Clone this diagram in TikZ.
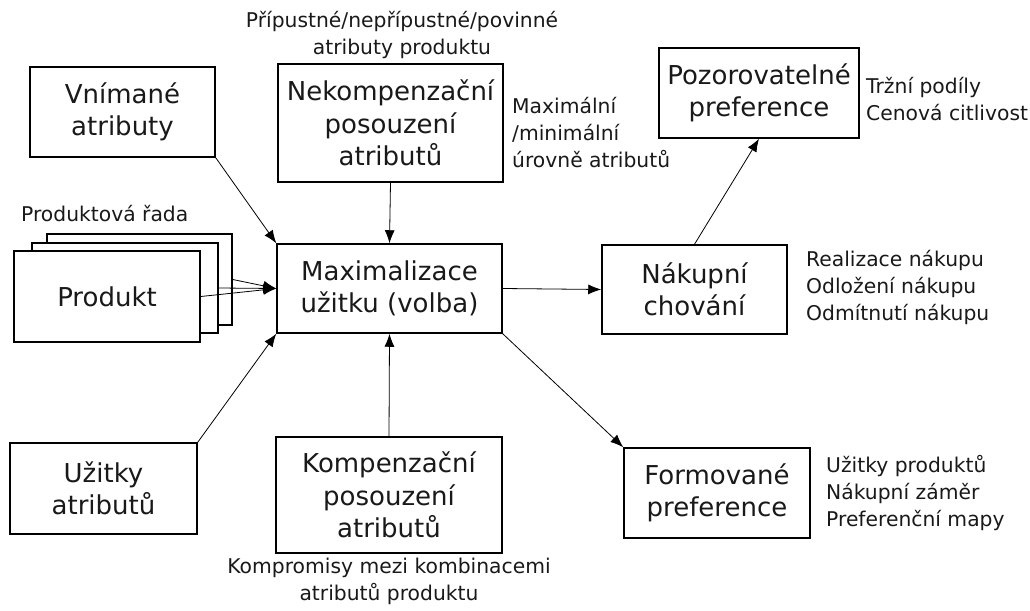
\documentclass[tikz,border=0pt]{standalone}
\usepackage{fontspec}
\setmainfont{DejaVu Sans}
\usetikzlibrary{arrows.meta}

\newcommand{\boxfont}{\fontsize{26}{32.5}\selectfont}
\newcommand{\notefont}{\fontsize{20.3}{27}\selectfont}

\tikzset{
  block/.style={draw, line width=1.5pt, fill=white, align=center, inner sep=0pt,
    font=\boxfont, text=black!90},
  note/.style={inner sep=0pt, font=\notefont, text=black!90},
  link/.style={line width=0.8pt, -{Latex[length=13pt,width=10pt]}}
}

% helper: block node between two corners (left, top, right, bottom)
\newcommand{\blockat}[6]{%
  \node[block, minimum width={#4-#2}, minimum height={#5-#3}]
    (#1) at ({(#2+#4)/2},{(#3+#5)/2}) {#6};}

\begin{document}
\begin{tikzpicture}[x=1pt, y=-1pt]
  \useasboundingbox (0,0) rectangle (1030,610);

  % boxes
  \blockat{vnim}{30}{67}{215}{157}{Vnímané\\atributy}
  \blockat{nekomp}{278}{64}{503}{182}{Nekompenzační\\posouzení\\atributů}
  \blockat{back}{47}{234}{232}{325}{}
  \blockat{mid}{32}{243}{218}{333}{}
  \blockat{front}{14}{251}{200}{342}{Produkt}
  \blockat{main}{277}{244}{502}{333}{Maximalizace\\užitku (volba)}
  \blockat{naku}{602}{245}{787}{334}{Nákupní\\chování}
  \blockat{pozor}{659}{48}{859}{138}{Pozorovatelné\\preference}
  \blockat{uzit}{10}{443}{197}{534}{Užitky\\atributů}
  \blockat{kompen}{276}{437}{502}{553}{Kompenzační\\posouzení\\atributů}
  \blockat{form}{624}{448}{810}{538}{Formované\\preference}

  % side notes
  \node[note, align=center] (nPrip) at (402,35) {Přípustné/nepřípustné/povinné\\atributy produktu};
  \node[note, align=left, anchor=west] (nMax) at (512,133) {Maximální\\/minimální\\úrovně atributů};
  \node[note, anchor=west] (nRada) at (21,214) {Produktová řada};
  \node[note, align=left, anchor=west] (nTrh) at (866,99) {Tržní podíly\\Cenová citlivost};
  \node[note, align=left, anchor=west] (nReal) at (806,287) {Realizace nákupu\\Odložení nákupu\\Odmítnutí nákupu};
  \node[note, align=left, anchor=west] (nUzit) at (826,493) {Užitky produktů\\Nákupní záměr\\Preferenční mapy};
  \node[note, align=center] (nKomp) at (389,581) {Kompromisy mezi kombinacemi\\atributů produktu};

  % connectors
  \draw[link] (vnim.south east) -- (main.north west);
  \draw[link] (nekomp.south) -- (main.north);
  \draw[link] (back.east) -- (main.west);
  \draw[link] (mid.east) -- (main.west);
  \draw[link] (front.east) -- (main.west);
  \draw[link] (uzit.north east) -- (main.south west);
  \draw[link] (kompen.north) -- (main.south);
  \draw[link] (main.east) -- (naku.west);
  \draw[link] (main.south east) -- (form.north west);
  \draw[link] (naku.north) -- (pozor.south);
\end{tikzpicture}
\end{document}
